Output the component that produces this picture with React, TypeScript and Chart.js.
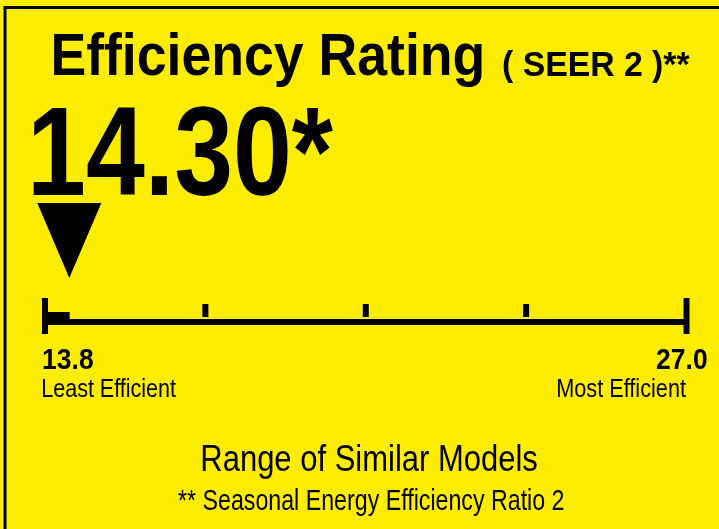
import React, { useEffect, useRef } from "react";
import { Chart, registerables } from "chart.js";

Chart.register(...registerables);

// ---- data ----
const ratingLabel = ["SEER 2"];
const ratingValue = 14.3;
const rangeMin = 13.8;
const rangeMax = 27.0;
const scaleTicks = [13.8, 17.1, 20.4, 23.7, 27.0];
const titleText = "Efficiency Rating";
const titleUnit = "( SEER 2 )**";
const ratingText = "14.30*";
const minLabel = "13.8";
const maxLabel = "27.0";
const minCaption = "Least Efficient";
const maxCaption = "Most Efficient";
const footerText = "Range of Similar Models";
const footnoteText = "** Seasonal Energy Efficiency Ratio 2";

const YELLOW = "#FFED00";
const FONT = '"Liberation Sans", Arial, Helvetica, sans-serif';

function fitText(
  ctx: CanvasRenderingContext2D,
  text: string,
  x: number,
  baseline: number,
  size: number,
  bold: boolean,
  width: number,
  align: "left" | "right" | "center"
) {
  ctx.save();
  ctx.font = `${bold ? "bold " : ""}${size}px ${FONT}`;
  ctx.textAlign = "left";
  ctx.textBaseline = "alphabetic";
  const m = ctx.measureText(text);
  const ink = m.actualBoundingBoxLeft + m.actualBoundingBoxRight;
  const sx = width / ink;
  const left = align === "left" ? x : align === "right" ? x - width : x - width / 2;
  ctx.translate(left + m.actualBoundingBoxLeft * sx, baseline);
  ctx.scale(sx, 1);
  ctx.fillStyle = "#000";
  ctx.fillText(text, 0, 0);
  ctx.restore();
}

const labelPlugin = {
  id: "energyLabel",
  beforeDraw(chart: any) {
    const { ctx, width, height } = chart;
    ctx.save();
    ctx.fillStyle = YELLOW;
    ctx.fillRect(0, 0, width, height);
    // outer frame (top & left visible)
    ctx.strokeStyle = "#000";
    ctx.lineWidth = 3;
    ctx.beginPath();
    ctx.moveTo(5, height + 5);
    ctx.lineTo(5, 7.5);
    ctx.lineTo(width + 5, 7.5);
    ctx.stroke();
    ctx.restore();
  },
  afterDatasetsDraw(chart: any) {
    const { ctx } = chart;
    const xs = chart.scales.x;
    const lineY = 322;
    ctx.save();
    ctx.fillStyle = "#000";
    // main scale line
    const x0 = xs.getPixelForValue(rangeMin);
    const x1 = xs.getPixelForValue(rangeMax);
    ctx.fillRect(x0, lineY - 3, x1 - x0, 6);
    // ticks
    scaleTicks.forEach((v) => {
      const px = xs.getPixelForValue(v);
      if (v === rangeMin || v === rangeMax) {
        ctx.fillRect(px - 3, 298, 6, 36);
      } else {
        ctx.fillRect(px - 3, 304, 6, 13);
      }
    });
    // pointer triangle
    const tx = xs.getPixelForValue(ratingValue);
    ctx.beginPath();
    ctx.moveTo(tx - 32, 203);
    ctx.lineTo(tx + 32, 203);
    ctx.lineTo(tx, 278);
    ctx.closePath();
    ctx.fill();
    ctx.restore();

    // texts
    fitText(ctx, titleText, 54, 75, 60, true, 428, "left");
    fitText(ctx, titleUnit, 503, 76, 35, true, 187, "left");
    fitText(ctx, ratingText, 33, 195, 126, true, 300, "left");
    fitText(ctx, minLabel, 43, 369, 30, true, 50, "left");
    fitText(ctx, minCaption, 43, 397, 25, false, 133, "left");
    fitText(ctx, maxLabel, 707, 369, 30, true, 50, "right");
    fitText(ctx, maxCaption, 686, 397, 25, false, 128, "right");
    fitText(ctx, footerText, 369.5, 471, 36, false, 335, "center");
    fitText(ctx, footnoteText, 371, 510, 30, false, 386, "center");
  },
};

export default function App() {
  const ref = useRef<HTMLCanvasElement | null>(null);
  useEffect(() => {
    document.body.style.margin = "0";
    const canvas = ref.current!;
    const chart = new Chart(canvas, {
      type: "bar",
      data: {
        labels: ratingLabel,
        datasets: [
          {
            data: [[rangeMin, ratingValue]] as any,
            backgroundColor: "#000",
            borderWidth: 0,
            barPercentage: 1,
            categoryPercentage: 1,
          },
        ],
      },
      options: {
        indexAxis: "y",
        responsive: false,
        animation: false,
        devicePixelRatio: 1,
        layout: { padding: { left: 45, right: 32.5, top: 312, bottom: 204 } },
        scales: {
          x: { type: "linear", min: rangeMin, max: rangeMax, display: false },
          y: { display: false },
        },
        plugins: {
          legend: { display: false },
          tooltip: { enabled: false },
          title: { display: false },
        },
      },
      plugins: [labelPlugin],
    });
    return () => chart.destroy();
  }, []);
  return <canvas ref={ref} width={719} height={529} style={{ display: "block" }} />;
}
